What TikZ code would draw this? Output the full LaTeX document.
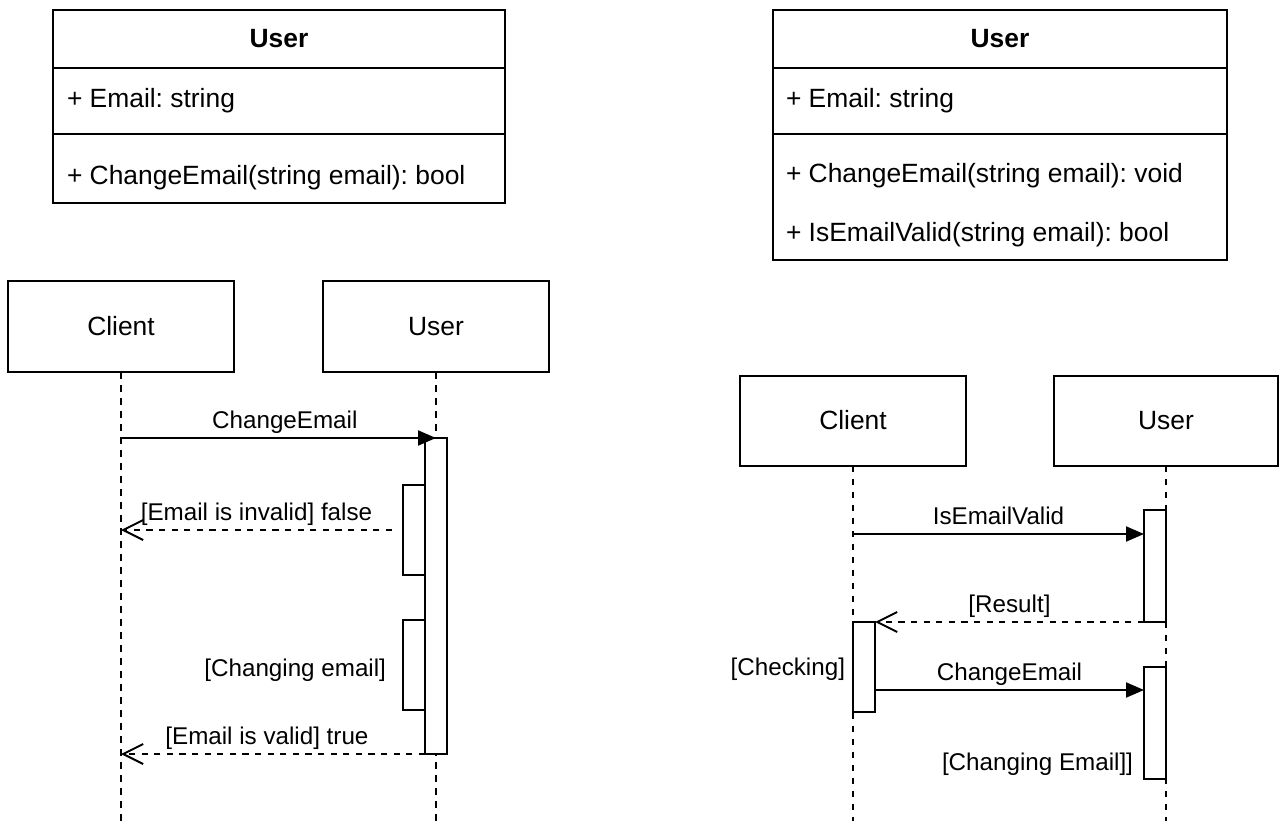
\documentclass[tikz,border=0pt]{standalone}
\usepackage{fontspec}
\setmainfont{Liberation Sans}
\usetikzlibrary{arrows.meta,calc}
\begin{document}
\frenchspacing
\begin{tikzpicture}[x=1pt,y=-1pt,
  every node/.style={inner sep=0pt, outer sep=0pt},
  box/.style={draw=black, line width=2pt, fill=white, font=\fontsize{26.4}{30}\selectfont},
  txt/.style={font=\fontsize{26.4}{30}\selectfont},
  lbl/.style={font=\fontsize{24.2}{28}\selectfont, text height=0.75em, text depth=0.25em},
  act/.style={draw=black, line width=2pt, fill=white, minimum width=22pt},
  lifeline/.style={line width=2pt, dash pattern=on 6.5pt off 6.5pt},
  msg/.style={line width=2pt, -{Triangle[length=18pt,width=15pt]}},
  ret/.style={line width=2pt, dash pattern=on 6.3pt off 6.3pt, -{Straight Barb[length=20pt,width=20pt]}},
  mlabel/.style={lbl, midway, above=7pt}]
\useasboundingbox (0,0) rectangle (1279,821);
\fill[white] (0,0) rectangle (1279,821);

% ---------- left class ----------
\node[box, minimum width=452pt, minimum height=58pt, anchor=north west] (lcHead) at (53,10) {\bfseries User};
\node[box, minimum width=452pt, minimum height=66pt, anchor=north west] (lcAttr) at (53,68) {};
\node[box, minimum width=452pt, minimum height=69pt, anchor=north west] (lcOps) at (53,134) {};
\node[txt, anchor=base west] (lcEmail) at (67,107.5) {+ Email: string};
\node[txt, anchor=base west] (lcChange) at (67,184.5) {+ ChangeEmail(string email): bool};

% ---------- right class ----------
\node[box, minimum width=454pt, minimum height=58pt, anchor=north west] (rcHead) at (773,10) {\bfseries User};
\node[box, minimum width=454pt, minimum height=66pt, anchor=north west] (rcAttr) at (773,68) {};
\node[box, minimum width=454pt, minimum height=126pt, anchor=north west] (rcOps) at (773,134) {};
\node[txt, anchor=base west] (rcEmail) at (786,107.5) {+ Email: string};
\node[txt, anchor=base west] (rcChange) at (786,182.5) {+ ChangeEmail(string email): void};
\node[txt, anchor=base west] (rcValid) at (786,241.5) {+ IsEmailValid(string email): bool};

% ---------- left sequence ----------
\node[box, minimum width=226pt, minimum height=91pt] (lcl) at (121,326.5) {Client};
\node[box, minimum width=226pt, minimum height=91pt] (lus) at (436,326.5) {User};
\coordinate (lclEnd) at (121,821);
\coordinate (lusEnd) at (436,821);
\draw[lifeline] (lcl.south) -- (lclEnd);
\draw[lifeline] (lus.south) -- (lusEnd);
\node[act, minimum height=316pt] (la) at (436,596) {};
\node[act, minimum height=90pt] (la1) at (414,530) {};
\node[act, minimum height=90pt] (la2) at (414,665) {};
\draw[msg] (lcl.south |- la.north) -- (la.north) node[mlabel, pos=0.52] {ChangeEmail};
\draw[ret] ([xshift=-11pt]la1.west) -- (lcl.south |- la1.west) node[mlabel] {[Email is invalid] false};
\draw[ret] (la.south west) -- (lcl.south |- la.south west) node[mlabel, pos=0.52] {[Email is valid] true};
\node[lbl, anchor=base east] (lchg) at (386,676.7) {[Changing email]};

% ---------- right sequence ----------
\node[box, minimum width=226pt, minimum height=90pt] (rcl) at (853,420.5) {Client};
\node[box, minimum width=224pt, minimum height=90pt] (rus) at (1166,420.5) {User};
\coordinate (rclEnd) at (853,821);
\coordinate (rusEnd) at (1166,821);
\draw[lifeline] (rcl.south) -- (rclEnd);
\draw[lifeline] (rus.south) -- (rusEnd);
\node[act, minimum height=112pt] (ra1) at (1155,566) {};
\node[act, minimum height=90pt] (rca) at (864,667) {};
\node[act, minimum height=112pt] (ra2) at (1155,723) {};
\coordinate (ym1) at (0,534);
\coordinate (ym2) at (0,690);
\draw[msg] (rcl.south |- ym1) -- (ra1.west |- ym1) node[mlabel] {IsEmailValid};
\draw[ret] (ra1.south west) -- (rca.north east) node[mlabel] {[Result]};
\draw[msg] (rca.east |- ym2) -- (ra2.west |- ym2) node[mlabel] {ChangeEmail};
\node[lbl, anchor=base east] (rchk) at (845,675.7) {[Checking]};
\node[lbl, anchor=base east] (rchg) at (1133,770.7) {[Changing Email]]};
\end{tikzpicture}
\end{document}
